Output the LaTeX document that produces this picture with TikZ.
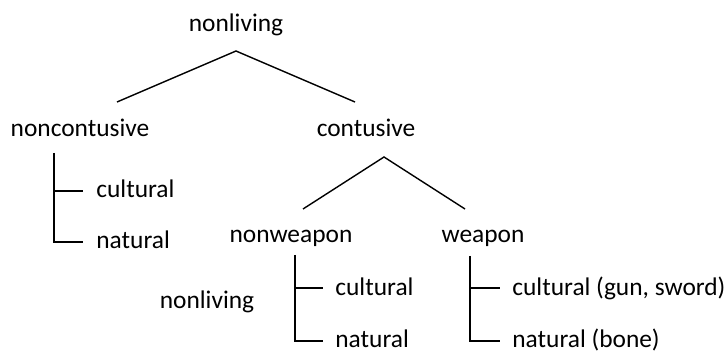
\documentclass[tikz,border=0pt]{standalone}
\usepackage{fontspec}
\setmainfont{Carlito}
\usetikzlibrary{positioning}

\tikzset{
  term/.style={inner sep=0pt, anchor=base, font=\fontsize{12.7}{15}\selectfont},
  leaf/.style={term, anchor=base west},
  branch/.style={line width=0.7pt}
}

\begin{document}
\begin{tikzpicture}[x=0.5pt,y=-0.5pt]
  \useasboundingbox (0,0) rectangle (726,351);
  % top split
  \node[term] (root) at (236,32) {nonliving};
  \node[term] (noncont) at (80,137) {noncontusive};
  \node[term] (cont) at (366,137) {contusive};
  \coordinate (root-fork) at (236,51);
  \coordinate (noncont-top) at (117,102);
  \coordinate (cont-top) at (355,102);
  \draw[branch] (noncont-top) -- (root-fork) -- (cont-top);

  % noncontusive leaves
  \node[leaf] (nc-cult) at (96,198) {cultural};
  \node[leaf] (nc-nat) at (96,249) {natural};
  \coordinate (nc-stem) at (54,153);
  \draw[branch] (nc-stem) |- ([xshift=-6.5pt]nc-nat.west |- 0,242);
  \draw[branch] (nc-stem |- 0,191) -- ([xshift=-6.5pt]nc-cult.west |- 0,191);

  % contusive split
  \node[term] (nonweap) at (291,243) {nonweapon};
  \node[term] (weap) at (483,243) {weapon};
  \coordinate (cont-fork) at (384,157);
  \coordinate (nonweap-top) at (303,209);
  \coordinate (weap-top) at (465,209);
  \draw[branch] (nonweap-top) -- (cont-fork) -- (weap-top);

  \node[term] (side) at (207,309) {nonliving};

  % nonweapon leaves
  \node[leaf] (nw-cult) at (335,296) {cultural};
  \node[leaf] (nw-nat) at (335,347) {natural};
  \coordinate (nw-stem) at (295,255);
  \draw[branch] (nw-stem) |- ([xshift=-6pt]nw-nat.west |- 0,341);
  \draw[branch] (nw-stem |- 0,288) -- ([xshift=-6pt]nw-cult.west |- 0,288);

  % weapon leaves
  \node[leaf] (w-cult) at (512,296) {cultural (gun, sword)};
  \node[leaf] (w-nat) at (512,347) {natural (bone)};
  \coordinate (w-stem) at (470,256);
  \draw[branch] (w-stem) |- ([xshift=-6pt]w-nat.west |- 0,341);
  \draw[branch] (w-stem |- 0,288) -- ([xshift=-6pt]w-cult.west |- 0,288);
\end{tikzpicture}
\end{document}
